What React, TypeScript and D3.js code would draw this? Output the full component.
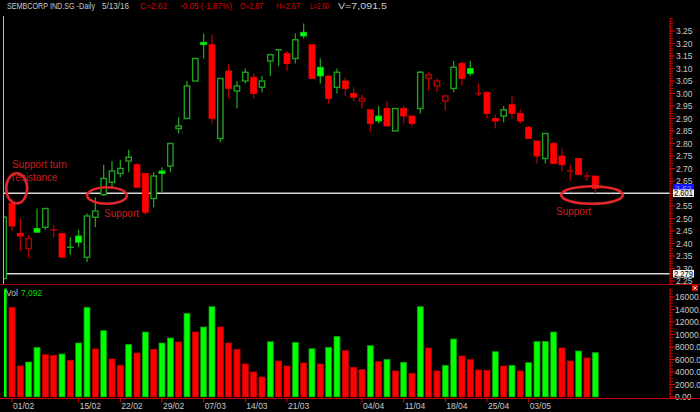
import React from 'react';
import * as d3 from 'd3';

const dates = ["29/01","01/02","02/02","03/02","04/02","05/02","10/02","11/02","12/02","15/02","16/02","17/02","18/02","19/02","22/02","23/02","24/02","25/02","26/02","29/02","01/03","02/03","03/03","04/03","07/03","08/03","09/03","10/03","11/03","14/03","15/03","16/03","17/03","18/03","21/03","22/03","23/03","24/03","28/03","29/03","30/03","31/03","01/04","04/04","05/04","06/04","07/04","08/04","11/04","12/04","13/04","14/04","15/04","18/04","19/04","20/04","21/04","22/04","25/04","26/04","27/04","28/04","29/04","03/05","04/05","05/05","06/05","09/05","10/05","11/05","12/05","13/05"];
const opens = [2.26,2.56,2.44,2.38,2.46,2.465,2.455,2.44,2.385,2.43,2.345,2.505,2.595,2.645,2.68,2.73,2.715,2.68,2.58,2.69,2.71,2.86,2.90,3.05,3.205,3.195,2.82,3.09,3.01,3.05,3.065,3.025,3.13,3.175,3.16,3.14,3.245,3.195,3.105,3.07,3.025,3.05,3.00,2.97,2.935,2.91,2.94,2.85,2.94,2.91,2.94,3.06,3.03,2.97,3.02,3.12,3.10,3.00,3.005,2.90,2.91,2.955,2.92,2.865,2.81,2.74,2.80,2.75,2.69,2.74,2.67,2.67];
const highs = [2.51,2.58,2.50,2.435,2.54,2.54,2.475,2.44,2.425,2.455,2.52,2.585,2.715,2.73,2.735,2.775,2.72,2.68,2.685,2.705,2.80,2.905,3.05,3.14,3.24,3.235,3.06,3.12,3.05,3.10,3.08,3.07,3.16,3.178,3.17,3.24,3.28,3.195,3.14,3.07,3.10,3.065,3.025,2.995,2.935,2.95,2.97,2.94,2.95,2.91,3.09,3.085,3.06,2.995,3.13,3.13,3.13,3.04,3.005,2.915,2.95,2.99,2.935,2.87,2.81,2.84,2.805,2.78,2.715,2.74,2.685,2.67];
const lows = [2.26,2.45,2.37,2.34,2.445,2.455,2.425,2.345,2.355,2.385,2.325,2.465,2.59,2.625,2.665,2.685,2.625,2.515,2.545,2.60,2.685,2.84,2.90,3.05,3.14,2.88,2.805,2.98,2.94,3.04,2.98,3.005,3.07,3.11,3.09,3.12,3.22,3.06,3.04,2.96,3.00,2.99,2.97,2.94,2.845,2.88,2.87,2.85,2.88,2.87,2.92,3.01,3.005,2.93,3.005,3.03,3.07,2.99,2.90,2.86,2.885,2.90,2.88,2.82,2.72,2.72,2.72,2.69,2.65,2.675,2.65,2.60];
const closes = [2.505,2.47,2.43,2.42,2.445,2.54,2.455,2.345,2.385,2.405,2.51,2.53,2.66,2.69,2.70,2.745,2.625,2.525,2.67,2.68,2.80,2.87,3.03,3.14,3.195,2.90,3.06,3.02,3.03,3.085,3.00,3.05,3.155,3.175,3.12,3.215,3.23,3.06,3.07,2.98,3.085,3.02,2.985,2.98,2.88,2.89,2.87,2.94,2.91,2.88,3.085,3.075,3.05,2.99,3.105,3.06,3.08,3.00,2.92,2.89,2.935,2.92,2.89,2.82,2.75,2.84,2.72,2.715,2.69,2.675,2.67,2.62];
const volumes = [17300,14350,4960,5600,7950,6770,6670,6880,5870,8640,14350,7680,10610,6080,5070,8430,7040,10400,7630,8640,9440,8800,13390,10400,11200,14450,11200,8640,7630,5280,4000,3200,8850,5760,4960,8750,5440,7730,5280,7950,9710,7410,4750,4370,8210,5650,6030,4160,5550,3790,14450,7840,4160,5070,9280,6560,5970,4320,4270,7250,4960,5070,4160,5490,8900,8910,10400,7840,5760,7360,6240,7092];

const weekTicks = ["01/02","15/02","22/02","29/02","07/03","14/03","21/03","04/04","11/04","18/04","25/04","03/05"];
const priceTicks = [2.25,2.30,2.35,2.40,2.45,2.50,2.55,2.60,2.65,2.70,2.75,2.80,2.85,2.90,2.95,3.00,3.05,3.10,3.15,3.20,3.25];
const volTicks = [0,2000,4000,6000,8000,10000,12000,14000,16000];
const supportLines = [2.601, 2.279];
const lastClose = 2.62;

const BG = '#000000';
const UP_LINE = '#1fa01f';
const DOWN_LINE = '#b40000';
const UP_FILL = '#00ff00';
const DOWN_FILL = '#ff0000';
const AXIS = '#e00000';
const SEP = '#a00000';
const TXT = '#c8c8c8';
const ANNO = '#c81e1e';
const RING = '#e3262b';
const FONT = '"Liberation Sans", Arial, sans-serif';

export default function App() {
  const W = 700, H = 412;
  const x = d3.scaleLinear().domain([1, 71]).range([12, 595.3]);
  const yp = d3.scaleLinear().domain([2.25, 3.25]).range([281, 31]);
  const yv = d3.scaleLinear().domain([0, 16000]).range([397, 297]);
  const idx = (d: string) => dates.indexOf(d);

  const minorPrice = d3.range(224, 331).map(v => v / 100);
  const minorVol = d3.range(0, 17001, 500);

  return (
    <svg width={W} height={H} style={{ position: 'fixed', left: 0, top: 0, background: BG }} fontFamily={FONT}>
      <rect x={0} y={0} width={W} height={H} fill={BG} />
      <defs>
        <clipPath id="pc"><rect x={4} y={14} width={665} height={270} /></clipPath>
        <clipPath id="vc"><rect x={4} y={286} width={665} height={111.5} /></clipPath>
      </defs>

      {/* header */}
      <g fontSize={9}>
        <text x={7} y={9} fill={TXT} textLength={88} lengthAdjust="spacingAndGlyphs">SEMBCORP IND.SG -Daily</text>
        <text x={102} y={9} fill={TXT} textLength={27} lengthAdjust="spacingAndGlyphs">5/13/16</text>
        <text x={140} y={9} fill="#dd0000" textLength={27} lengthAdjust="spacingAndGlyphs">C=2.62</text>
        <text x={180} y={9} fill="#dd0000" textLength={52} lengthAdjust="spacingAndGlyphs">-0.05 (-1.87%)</text>
        <text x={240} y={9} fill="#dd0000" textLength={23} lengthAdjust="spacingAndGlyphs">O=2.67</text>
        <text x={276} y={9} fill="#dd0000" textLength={24} lengthAdjust="spacingAndGlyphs">H=2.67</text>
        <text x={310} y={9} fill="#dd0000" textLength={19} lengthAdjust="spacingAndGlyphs">L=2.60</text>
        <text x={338} y={9} fill={TXT} textLength={49} lengthAdjust="spacingAndGlyphs">V=7,091.5</text>
      </g>

      {/* left border */}
      <line x1={3.5} x2={3.5} y1={16} y2={284} stroke="#b8b8b8" strokeWidth={1} />

      {/* support lines */}
      {supportLines.map((s, i) => (
        <line key={i} x1={4} x2={670} y1={yp(s)} y2={yp(s)} stroke="#d8d8d8" strokeWidth={1.3} />
      ))}

      {/* candles */}
      <g clipPath="url(#pc)">
        {dates.map((d, i) => {
          const o = opens[i], c = closes[i], h = highs[i], l = lows[i];
          const up = i === 0 ? true : c >= closes[i - 1];
          const line = up ? UP_LINE : DOWN_LINE;
          const filled = c < o;
          const cx = x(i);
          const yT = yp(Math.max(o, c)), yB = yp(Math.min(o, c));
          const doji = Math.abs(yB - yT) < 1.2;
          return (
            <g key={d}>
              <line x1={cx} x2={cx} y1={yp(h)} y2={yp(l)} stroke={line} strokeWidth={1.3} />
              {doji ? (
                <line x1={cx - 3.3} x2={cx + 3.3} y1={yp(c)} y2={yp(c)} stroke={line} strokeWidth={1.5} />
              ) : filled ? (
                <rect x={cx - 3} y={yT} width={6} height={yB - yT} fill={up ? UP_FILL : DOWN_FILL} stroke={up ? '#10d010' : DOWN_FILL} strokeWidth={0.8} />
              ) : (
                <rect x={cx - 2.7} y={yT} width={5.4} height={yB - yT} fill={BG} stroke={line} strokeWidth={1.4} />
              )}
            </g>
          );
        })}
      </g>

      {/* price axis */}
      <line x1={670} x2={670} y1={18} y2={284} stroke={AXIS} strokeWidth={1} />
      {minorPrice.map((p, i) => (
        <line key={i} x1={670} x2={673} y1={yp(p)} y2={yp(p)} stroke={AXIS} strokeWidth={0.8} />
      ))}
      {priceTicks.map((p, i) => (
        <g key={i}>
          <line x1={670} x2={675} y1={yp(p)} y2={yp(p)} stroke={AXIS} strokeWidth={1} />
          <text x={676} y={yp(p) + 3} fill={TXT} fontSize={8.5}>{p.toFixed(2)}</text>
        </g>
      ))}
      {/* last price marker */}
      <rect x={673} y={yp(lastClose) - 4.5} width={21} height={9} fill="#1414ff" />
      <text x={675} y={yp(lastClose) + 3} fill="#8c8cff" fontSize={8.5}>{lastClose.toFixed(2)}</text>
      {supportLines.map((s, i) => (
        <g key={i}>
          <rect x={673} y={yp(s) - 3.8} width={21} height={7.6} fill="#f4f4f4" />
          <text x={674} y={yp(s) + 3} fill="#000" fontSize={8.5} textLength={19} lengthAdjust="spacingAndGlyphs">{s.toFixed(3)}</text>
        </g>
      ))}

      {/* separators */}
      <line x1={0} x2={700} y1={284.5} y2={284.5} stroke={SEP} strokeWidth={1.2} />
      <rect x={692} y={285} width={6} height={6} fill="#e01010" />
      <path d="M693.5,286.5 L696.5,289.5 M696.5,286.5 L693.5,289.5" stroke="#fff" strokeWidth={0.8} />

      {/* volume */}
      <g clipPath="url(#vc)">
        {volumes.map((v, i) => {
          const up = i === 0 ? true : v >= volumes[i - 1];
          const cx = x(i);
          return (
            <rect key={i} x={cx - 3} y={yv(v)} width={6} height={yv(0) - yv(v)}
              fill={up ? UP_FILL : DOWN_FILL} stroke={up ? '#109010' : '#c00000'} strokeWidth={0.8} />
          );
        })}
      </g>
      <text x={6} y={296} fill={TXT} fontSize={8.5}>Vol</text>
      <text x={21} y={296} fill="#00dd00" fontSize={8.5}>7,092</text>

      {/* volume axis */}
      <line x1={670} x2={670} y1={288} y2={398} stroke={AXIS} strokeWidth={1} />
      {minorVol.map((v, i) => (
        <line key={i} x1={670} x2={673} y1={yv(v)} y2={yv(v)} stroke={AXIS} strokeWidth={0.8} />
      ))}
      {volTicks.map((v, i) => (
        <g key={i}>
          <line x1={670} x2={675} y1={yv(v)} y2={yv(v)} stroke={AXIS} strokeWidth={1} />
          <text x={675} y={yv(v) + 3} fill={TXT} fontSize={8.5}>{v === 0 ? '0.00' : v.toFixed(2)}</text>
        </g>
      ))}

      {/* x axis */}
      <line x1={0} x2={700} y1={398.5} y2={398.5} stroke="#c80000" strokeWidth={1.2} />
      {weekTicks.map((t) => {
        const cx = x(idx(t));
        return (
          <g key={t}>
            <line x1={cx} x2={cx} y1={398} y2={402.5} stroke={AXIS} strokeWidth={1} />
            <text x={cx + 1} y={409} fill={TXT} fontSize={8.5}>{t}</text>
          </g>
        );
      })}

      {/* annotations */}
      <g fontSize={10} fill={ANNO}>
        <text x={12} y={168}>Support turn</text>
        <text x={12} y={181}>resistance</text>
        <text x={104} y={217}>Support</text>
        <text x={556} y={215}>Support</text>
      </g>
      <g fill="none" stroke={RING} strokeWidth={2.6}>
        <ellipse cx={16.7} cy={188.3} rx={10.5} ry={15} />
        <ellipse cx={107} cy={195.5} rx={19.8} ry={8.3} />
        <ellipse cx={592} cy={195} rx={30.8} ry={8.8} />
      </g>
    </svg>
  );
}
